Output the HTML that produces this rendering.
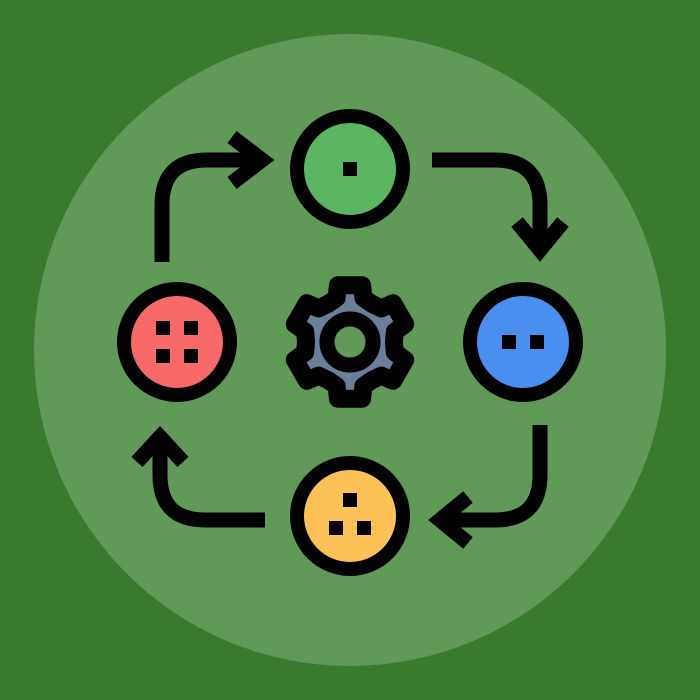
<!DOCTYPE html>
<html><head><style>html,body{margin:0;padding:0;background:#3a7a2e;}svg{display:block}</style></head>
<body>
<svg width="700" height="700" viewBox="0 0 700 700" xmlns="http://www.w3.org/2000/svg">
<rect width="700" height="700" fill="#3a7a2e"/>
<circle cx="350" cy="350" r="316" fill="#609958"/>
<g fill="none" stroke="#000" stroke-width="15" stroke-linecap="butt" stroke-linejoin="miter">
<path d="M162 262 V205 Q162 160 207 160 H262"/>
<path d="M232 137 L262 160 L232 183"/>
<path d="M432 160 H495 Q540 160 540 205 V250"/>
<path d="M517 222 L540 250 L563 222"/>
<path d="M540 425 V475 Q540 520 495 520 H440"/>
<path d="M468 497 L440 520 L468 543"/>
<path d="M265 520 H205 Q160 520 160 475 V437"/>
<path d="M137 462 L160 437 L183 462"/>
</g>
<g stroke="#000" stroke-width="14">
<circle cx="350" cy="169" r="53" fill="#5bb563"/>
<circle cx="523" cy="342" r="53" fill="#4a8ff0"/>
<circle cx="177" cy="342" r="53" fill="#f86a6a"/>
<circle cx="350" cy="516" r="53" fill="#fdc158"/>
</g>
<g fill="#000">
<rect x="343" y="162" width="14" height="14"/>
<rect x="502" y="335" width="14" height="14"/>
<rect x="530" y="335" width="14" height="14"/>
<rect x="156" y="321" width="14" height="14"/>
<rect x="184" y="321" width="14" height="14"/>
<rect x="156" y="349" width="14" height="14"/>
<rect x="184" y="349" width="14" height="14"/>
<rect x="343" y="493" width="14" height="14"/>
<rect x="329" y="521" width="14" height="14"/>
<rect x="357" y="521" width="14" height="14"/>
</g>
<path id="gear" fill="#6b7f9a" stroke="#000" stroke-width="18" stroke-linejoin="round" d=""/>
<circle cx="350" cy="342" r="23" fill="#609958" stroke="#000" stroke-width="15"/>
</svg>
<script>
(function(){var cx=350,cy=342,pts=[];for(var i=0;i<6;i++){var a=-90+i*60;var seq=[[a-30,44],[a-17,46],[a-12,58],[a+12,58],[a+17,46]];seq.forEach(function(p){var r=p[0]*Math.PI/180;pts.push((cx+p[1]*Math.cos(r)).toFixed(1)+" "+(cy+p[1]*Math.sin(r)).toFixed(1));});}
document.getElementById('gear').setAttribute('d','M'+pts.join(' L')+' Z');})();
</script>
</body></html>
